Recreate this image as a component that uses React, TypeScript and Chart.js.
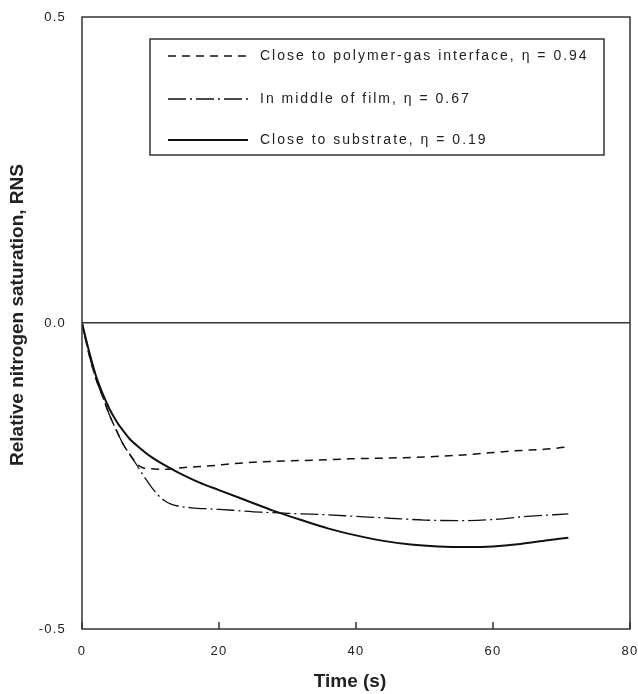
import React, { useEffect, useRef } from 'react';
import { Chart, registerables } from 'chart.js';

Chart.register(...registerables);

// ---- data ----
const seriesLabels = [
  'Close to polymer-gas interface, \u03b7 = 0.94',
  'In middle of film, \u03b7 = 0.67',
  'Close to substrate, \u03b7 = 0.19',
];

const interfaceT = [0, 1, 2, 3, 4, 5, 6, 7, 8, 9, 10, 12, 15, 18, 23, 28, 34, 39, 47, 55, 63, 69, 71];
const interfaceY = [0, -0.05, -0.09, -0.12, -0.15, -0.175, -0.198, -0.215, -0.23, -0.237, -0.238, -0.239, -0.236, -0.234, -0.229, -0.226, -0.224, -0.222, -0.22, -0.216, -0.209, -0.205, -0.202];

const middleT = [0, 1, 2, 3, 4, 5, 6, 7, 8, 9, 10, 11, 12, 13, 14, 16, 19, 22, 26, 30, 35, 40, 45, 50, 55, 60, 65, 71];
const middleY = [0, -0.05, -0.09, -0.12, -0.15, -0.175, -0.198, -0.215, -0.232, -0.25, -0.266, -0.28, -0.29, -0.296, -0.299, -0.302, -0.304, -0.306, -0.309, -0.311, -0.313, -0.316, -0.319, -0.322, -0.323, -0.321, -0.316, -0.312];

const substrateT = [0, 1, 2, 3, 4, 5, 6, 7, 8, 10, 12, 14, 17, 20, 24, 28, 32, 36, 40, 44, 48, 52, 56, 60, 64, 68, 71];
const substrateY = [0, -0.045, -0.085, -0.115, -0.14, -0.16, -0.176, -0.19, -0.2, -0.218, -0.232, -0.244, -0.26, -0.273, -0.29, -0.307, -0.322, -0.336, -0.347, -0.356, -0.362, -0.365, -0.366, -0.365, -0.361, -0.355, -0.351];

const xTicks = [0, 20, 40, 60, 80];
const yTicks = [-0.5, 0, 0.5];

const xTitle = 'Time (s)';
const yTitle = 'Relative nitrogen saturation, RNS';

const dashes: number[][] = [[8, 6], [18, 4, 2, 4], []];
const widths = [1.5, 1.3, 2];

const toPoints = (t: number[], y: number[]) => t.map((v, i) => ({ x: v, y: y[i] }));

const FONT = '"Liberation Sans", Arial, sans-serif';

const decorPlugin = {
  id: 'decor',
  beforeDraw(chart: any) {
    const ctx = chart.ctx;
    ctx.save();
    ctx.fillStyle = '#ffffff';
    ctx.fillRect(0, 0, chart.width, chart.height);
    ctx.restore();
    ctx.letterSpacing = '1.2px';
  },
  afterDraw(chart: any) {
    const ctx = chart.ctx;
    const a = chart.chartArea;
    const xs = chart.scales.x;
    ctx.save();
    ctx.letterSpacing = '0px';
    // frame
    ctx.strokeStyle = '#333';
    ctx.lineWidth = 1.5;
    ctx.setLineDash([]);
    ctx.strokeRect(a.left, a.top, a.right - a.left, a.bottom - a.top);
    // inward x ticks
    xTicks.forEach((v) => {
      const px = xs.getPixelForValue(v);
      ctx.beginPath();
      ctx.moveTo(px, a.bottom);
      ctx.lineTo(px, a.bottom - 7);
      ctx.stroke();
    });
    // legend box
    const bl = a.left + 68;
    const bt = a.top + 22;
    const br = a.right - 26;
    const bb = a.top + 138;
    ctx.lineWidth = 1.5;
    ctx.strokeStyle = '#333';
    ctx.strokeRect(bl, bt, br - bl, bb - bt);
    const rows = [bt + 17, bt + 60, bt + 101];
    chart.data.datasets.forEach((ds: any, i: number) => {
      ctx.beginPath();
      ctx.setLineDash(ds.borderDash || []);
      ctx.lineWidth = ds.borderWidth;
      ctx.strokeStyle = '#111';
      ctx.moveTo(bl + 18, rows[i]);
      ctx.lineTo(bl + 98, rows[i]);
      ctx.stroke();
      ctx.setLineDash([]);
      ctx.letterSpacing = '2px';
      ctx.fillStyle = '#222';
      ctx.font = `14px ${FONT}`;
      ctx.textAlign = 'left';
      ctx.textBaseline = 'middle';
      ctx.fillText(ds.label, bl + 110, rows[i]);
    });
    // axis titles
    ctx.letterSpacing = '0px';
    ctx.fillStyle = '#222';
    ctx.font = `bold 19px ${FONT}`;
    ctx.textAlign = 'center';
    ctx.textBaseline = 'middle';
    ctx.fillText(xTitle, (a.left + a.right) / 2 - 6, 682);
    ctx.save();
    ctx.translate(18, (a.top + a.bottom) / 2 - 8);
    ctx.rotate(-Math.PI / 2);
    ctx.fillText(yTitle, 0, 0);
    ctx.restore();
    ctx.restore();
  },
};

export default function App() {
  const ref = useRef<HTMLCanvasElement>(null);
  useEffect(() => {
    if (!ref.current) return;
    const series = [
      toPoints(interfaceT, interfaceY),
      toPoints(middleT, middleY),
      toPoints(substrateT, substrateY),
    ];
    const chart = new Chart(ref.current, {
      type: 'line',
      data: {
        datasets: series.map((d, i) => ({
          label: seriesLabels[i],
          data: d,
          borderColor: '#111',
          borderWidth: widths[i],
          borderDash: dashes[i],
          pointRadius: 0,
          fill: false,
          tension: 0.4,
          cubicInterpolationMode: 'monotone' as const,
        })),
      },
      options: {
        animation: false,
        responsive: false,
        devicePixelRatio: 1,
        layout: { padding: { left: 0, right: 8, top: 17, bottom: 0 } },
        plugins: { legend: { display: false }, tooltip: { enabled: false } },
        scales: {
          x: {
            type: 'linear',
            min: 0,
            max: 80,
            afterBuildTicks: (s: any) => { s.ticks = xTicks.map((v) => ({ value: v })); },
            afterFit: (s: any) => { s.height = 65; s.paddingLeft = 0; s.paddingRight = 0; },
            grid: { display: false, drawTicks: false },
            border: { display: false },
            ticks: { padding: 15, color: '#222', font: { family: FONT, size: 13 }, maxRotation: 0 },
          },
          y: {
            type: 'linear',
            min: -0.5,
            max: 0.5,
            afterBuildTicks: (s: any) => { s.ticks = yTicks.map((v) => ({ value: v })); },
            afterFit: (s: any) => { s.width = 82; s.paddingTop = 0; s.paddingBottom = 0; },
            grid: {
              drawTicks: false,
              color: (c: any) => (c.tick && c.tick.value === 0 ? '#333' : 'rgba(0,0,0,0)'),
              lineWidth: 1.5,
            },
            border: { display: false },
            ticks: {
              padding: 16,
              color: '#222',
              font: { family: FONT, size: 13 },
              callback: (v: any) => Number(v).toFixed(1),
            },
          },
        },
      },
      plugins: [decorPlugin],
    });
    return () => chart.destroy();
  }, []);
  return (
    <div style={{ position: 'absolute', left: 0, top: 0, width: 638, height: 694 }}>
      <canvas ref={ref} width={638} height={694} style={{ width: 638, height: 694 }} />
    </div>
  );
}
